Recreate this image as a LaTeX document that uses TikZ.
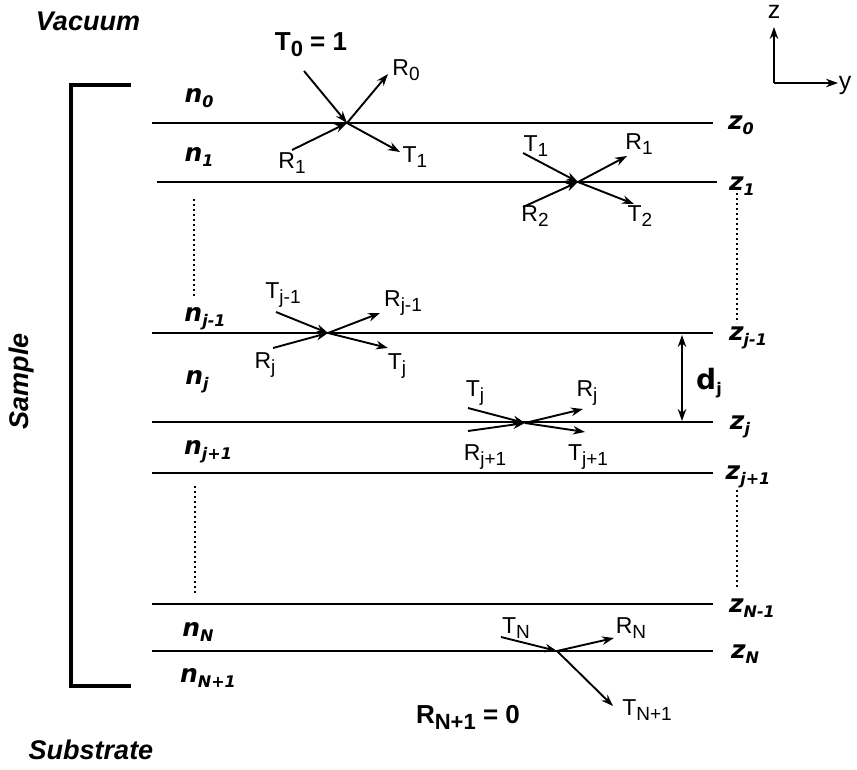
\documentclass[tikz,border=0pt]{standalone}
\usepackage{fontspec}
\setmainfont{Liberation Sans}
\newfontfamily\vfont{DejaVu Sans}[BoldItalicFont={DejaVu Sans Bold Oblique},BoldFont={DejaVu Sans Bold}]
\usetikzlibrary{arrows.meta}
\newcommand\lsub[1]{\raisebox{-5pt}{\fontsize{19}{19}\selectfont #1}}
\newcommand\nsub[1]{\raisebox{-5pt}{\fontsize{16}{16}\selectfont #1}}
\newcommand\bsub[1]{\raisebox{-6pt}{\fontsize{22}{22}\selectfont #1}}
\begin{document}
\begin{tikzpicture}[x=1pt,y=-1pt,
  layer/.style={line width=2.5pt},
  bracket/.style={line width=3.2pt},
  ray/.style={line width=1.9pt,-{Stealth[length=12pt,width=8.5pt]}},
  axis/.style={line width=2.1pt,-{Stealth[length=12pt,width=8.5pt]}},
  dots/.style={line width=1.8pt,dash pattern=on 1.8pt off 3.2pt},
  lab/.style={font=\fontsize{23}{23}\selectfont,inner sep=0pt},
  nlab/.style={font=\vfont\bfseries\itshape\fontsize{25}{25}\selectfont,inner sep=0pt},
  title/.style={font=\bfseries\itshape\fontsize{27}{27}\selectfont,inner sep=0pt},
  blab/.style={font=\bfseries\fontsize{26}{26}\selectfont,inner sep=0pt}]
\useasboundingbox (0,0) rectangle (857,769);

% titles
\node[title] (vac) at (88,21) {Vacuum};
\node[title] (sub) at (91,750) {Substrate};
\node[title,rotate=90] (sam) at (22,381) {Sample};

% bracket
\coordinate (b1) at (131,85);
\coordinate (b2) at (71,85);
\coordinate (b3) at (71,686);
\coordinate (b4) at (131,686);
\draw[bracket] (b1) -- (b2) -- (b3) -- (b4);

% layer lines
\coordinate (l0a) at (152,123); \coordinate (l0b) at (713,123);
\coordinate (l1a) at (157,182); \coordinate (l1b) at (717,182);
\coordinate (l2a) at (152,333); \coordinate (l2b) at (713,333);
\coordinate (l3a) at (152,422); \coordinate (l3b) at (713,422);
\coordinate (l4a) at (152,473); \coordinate (l4b) at (713,473);
\coordinate (l5a) at (152,604); \coordinate (l5b) at (713,604);
\coordinate (l6a) at (152,651); \coordinate (l6b) at (713,651);
\foreach \i in {0,...,6} {\draw[layer] (l\i a) -- (l\i b);}

% dotted lines
\coordinate (dl1) at (194,199); \coordinate (dl2) at (194,296);
\coordinate (dl3) at (195,486); \coordinate (dl4) at (195,593);
\coordinate (dr1) at (737,193); \coordinate (dr2) at (737,323);
\coordinate (dr3) at (737,490); \coordinate (dr4) at (737,588);
\draw[dots] (dl1) -- (dl2);
\draw[dots] (dl3) -- (dl4);
\draw[dots] (dr1) -- (dr2);
\draw[dots] (dr3) -- (dr4);

% n labels
\node[nlab] (n0) at (199,98) {n\nsub{0}};
\node[nlab] (n1) at (199,157) {n\nsub{1}};
\node[nlab] (nj1) at (205,319) {n\nsub{j-1}};
\node[nlab] (nj) at (197,382) {n\nsub{j}};
\node[nlab] (nj2) at (208,452) {n\nsub{j+1}};
\node[nlab] (nN) at (198,632) {n\nsub{N}};
\node[nlab] (nN1) at (208,678) {n\nsub{N+1}};

% z labels
\node[nlab] (z0) at (741,125) {z\nsub{0}};
\node[nlab] (z1) at (742,186) {z\nsub{1}};
\node[nlab] (zj1) at (748,338) {z\nsub{j-1}};
\node[nlab] (zj) at (740,427) {z\nsub{j}};
\node[nlab] (zj2) at (748,477) {z\nsub{j+1}};
\node[nlab] (zN1) at (752,608) {z\nsub{N-1}};
\node[nlab] (zN) at (745,654) {z\nsub{N}};

% interface 0
\coordinate (p0) at (347,123);
\coordinate (a0) at (304,71);
\coordinate (a1) at (388,74);
\coordinate (a2) at (292,150);
\coordinate (a3) at (400,152);
\draw[ray] (a0) -- (p0);
\draw[ray] (p0) -- (a1);
\draw[ray] (a2) -- (p0);
\draw[ray] (p0) -- (a3);
\node[blab] (t0) at (311,45) {T\bsub{0} = 1};
\node[lab] (r0l) at (406,70) {R\lsub{0}};
\node[lab] (r1l) at (292,163) {R\lsub{1}};
\node[lab] (t1l) at (415,157) {T\lsub{1}};

% interface 1
\coordinate (p1) at (578,182);
\coordinate (c0) at (523,153);
\coordinate (c1) at (627,156);
\coordinate (c2) at (523,207);
\coordinate (c3) at (634,204);
\draw[ray] (c0) -- (p1);
\draw[ray] (p1) -- (c1);
\draw[ray] (c2) -- (p1);
\draw[ray] (p1) -- (c3);
\node[lab] (t1b) at (536,146) {T\lsub{1}};
\node[lab] (r1b) at (639,144) {R\lsub{1}};
\node[lab] (r2b) at (535,216) {R\lsub{2}};
\node[lab] (t2b) at (640,216) {T\lsub{2}};

% interface j-1
\coordinate (p2) at (328,333);
\coordinate (e0) at (276,312);
\coordinate (e1) at (380,313);
\coordinate (e2) at (273,348);
\coordinate (e3) at (388,348);
\draw[ray] (e0) -- (p2);
\draw[ray] (p2) -- (e1);
\draw[ray] (e2) -- (p2);
\draw[ray] (p2) -- (e3);
\node[lab] (tj1l) at (283,295) {T\lsub{j-1}};
\node[lab] (rj1l) at (403,303) {R\lsub{j-1}};
\node[lab] (rjl) at (265,365) {R\lsub{j}};
\node[lab] (tjl) at (397,366) {T\lsub{j}};

% interface j
\coordinate (p3) at (525,423);
\coordinate (f0) at (468,408);
\coordinate (f1) at (583,409);
\coordinate (f2) at (468,431);
\coordinate (f3) at (585,432);
\draw[ray] (f0) -- (p3);
\draw[ray] (p3) -- (f1);
\draw[ray] (f2) -- (p3);
\draw[ray] (p3) -- (f3);
\node[lab] (tjb) at (475,393) {T\lsub{j}};
\node[lab] (rjb) at (587,393) {R\lsub{j}};
\node[lab] (rj2b) at (485,457) {R\lsub{j+1}};
\node[lab] (tj2b) at (588,457) {T\lsub{j+1}};

% d_j
\coordinate (d1) at (682,335);
\coordinate (d2) at (682,421);
\draw[line width=2.1pt,{Stealth[length=12pt,width=8.5pt]}-{Stealth[length=12pt,width=8.5pt]}] (d1) -- (d2);
\node[font=\vfont\bfseries\fontsize{28}{28}\selectfont,inner sep=0pt] (dj) at (709,383) {d\nsub{j}};

% interface N
\coordinate (p4) at (557,651);
\coordinate (g0) at (501,637);
\coordinate (g1) at (614,638);
\coordinate (g3) at (613,706);
\draw[ray] (g0) -- (p4);
\draw[ray] (p4) -- (g1);
\draw[ray] (p4) -- (g3);
\node[lab] (tNl) at (516,628) {T\lsub{N}};
\node[lab] (rNl) at (631,628) {R\lsub{N}};
\node[lab] (tN1l) at (647,710) {T\lsub{N+1}};
\node[blab] (rN1) at (468,717) {R\bsub{N+1} = 0};

% axes
\coordinate (o) at (774,83);
\coordinate (zt) at (774,27);
\coordinate (yt) at (838,83);
\draw[axis] (o) -- (zt);
\draw[axis] (o) -- (yt);
\node[font=\fontsize{25}{25}\selectfont,inner sep=0pt] (zax) at (774,12) {z};
\node[font=\fontsize{25}{25}\selectfont,inner sep=0pt] (yax) at (845,85) {y};
\end{tikzpicture}
\end{document}
